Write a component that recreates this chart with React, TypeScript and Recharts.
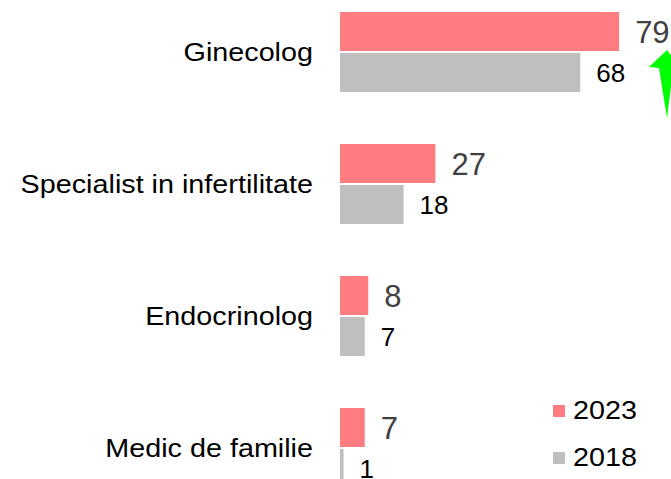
import React from 'react';
import { BarChart, Bar, XAxis, YAxis, LabelList, Legend } from 'recharts';

const categories = ['Ginecolog', 'Specialist in infertilitate', 'Endocrinolog', 'Medic de familie'];
const values2023 = [79, 27, 8, 7];
const values2018 = [68, 18, 7, 1];
const seriesNames = ['2023', '2018'];

const FONT = '"Liberation Sans", Arial, sans-serif';
const COLOR_2023 = '#FF7C80';
const COLOR_2018 = '#BFBFBF';

const data = categories.map((name, i) => ({
  name,
  y2023: values2023[i],
  y2018: values2018[i],
}));

// category labels look slightly stretched horizontally in the original
const CategoryTick = (props: any) => {
  const { x, y, payload } = props;
  return (
    <g transform={`translate(${x},${y})`}>
      <text
        x={0}
        y={0}
        dy="0.36em"
        textAnchor="end"
        transform="scale(1.15,1)"
        fontSize={25}
        fontFamily={FONT}
        fill="#000"
      >
        {payload.value}
      </text>
    </g>
  );
};

const LegendBox = () => {
  const colors = [COLOR_2023, COLOR_2018];
  return (
    <div style={{ fontFamily: FONT }}>
      {seriesNames.map((s, i) => (
        <div key={s} style={{ height: 47, display: 'flex', alignItems: 'center' }}>
          <span style={{ width: 12, height: 12, background: colors[i], display: 'inline-block', marginRight: 8 }} />
          <span style={{ fontSize: 25, color: '#000', display: 'inline-block', transform: 'scaleX(1.15)', transformOrigin: 'left center' }}>
            {s}
          </span>
        </div>
      ))}
    </div>
  );
};

export default function App() {
  return (
    <div style={{ position: 'absolute', left: 0, top: 0, width: 671, height: 479, overflow: 'hidden', background: '#fff' }}>
      <div style={{ position: 'absolute', left: 0, top: -14 }}>
        <BarChart
          width={671}
          height={528}
          data={data}
          layout="vertical"
          margin={{ top: 0, right: 13, bottom: 0, left: 0 }}
          barCategoryGap={26}
          barGap={2}
        >
          <XAxis type="number" domain={[0, 90]} hide />
          <YAxis
            type="category"
            dataKey="name"
            width={340}
            axisLine={false}
            tickLine={false}
            tickSize={0}
            tickMargin={27}
            interval={0}
            tick={<CategoryTick />}
          />
          <Legend
            layout="horizontal"
            verticalAlign="middle"
            align="center"
            content={<LegendBox />}
            wrapperStyle={{ top: 401, left: 553, width: 118 }}
          />
          <Bar dataKey="y2023" name="2023" fill={COLOR_2023} isAnimationActive={false}>
            <LabelList dataKey="y2023" position="right" offset={16} fill="#404040" fontSize={31} fontFamily={FONT} />
          </Bar>
          <Bar dataKey="y2018" name="2018" fill={COLOR_2018} isAnimationActive={false}>
            <LabelList dataKey="y2018" position="right" offset={16} fill="#000" fontSize={26} fontFamily={FONT} />
          </Bar>
        </BarChart>
      </div>
      <svg width={671} height={479} style={{ position: 'absolute', left: 0, top: 0, pointerEvents: 'none' }}>
        <path d="M667,50 L649,67 L659,68 L667,118 L671,86 L676,62 Z" fill="#00FF00" />
      </svg>
    </div>
  );
}
